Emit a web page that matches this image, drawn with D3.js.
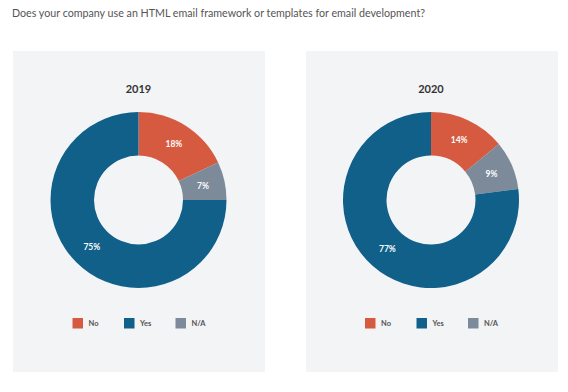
<!DOCTYPE html>
<html><head><meta charset="utf-8">
<script src="https://cdn.jsdelivr.net/npm/d3@7"></script>
<style>body{margin:0;background:#fff;} svg{display:block;font-family:Lato,"Open Sans",sans-serif;}</style>
</head><body>
<svg id="c" width="568" height="392"></svg>
<script>
const title = "Does your company use an HTML email framework or templates for email development?";
const categories = ["No", "N/A", "Yes"];
const legendOrder = ["No", "Yes", "N/A"];
const years = ["2019", "2020"];
const values2019 = [18, 7, 75];
const values2020 = [14, 9, 77];
const colors = {"No": "#d65a40", "Yes": "#10608a", "N/A": "#7d8a9a"};

const svg = d3.select("#c");
svg.append("text").attr("x", 12).attr("y", 16.5).attr("fill", "#555")
  .attr("font-size", 10.7).text(title);

const panels = [
  {year: years[0], vals: values2019, x: 13, cx: 138.5},
  {year: years[1], vals: values2020, x: 306, cx: 431}
];
const pie = d3.pie().sort(null).value(d => d.v);
const arc = d3.arc().innerRadius(44.5).outerRadius(88);
const labelArc = d3.arc().innerRadius(66).outerRadius(66);

panels.forEach(p => {
  const g = svg.append("g");
  g.append("rect").attr("x", p.x).attr("y", 51).attr("width", 252).attr("height", 321).attr("fill", "#f3f4f6");
  g.append("text").attr("x", p.cx).attr("y", 92.5).attr("text-anchor", "middle")
    .attr("font-size", 11).attr("font-weight", "bold").attr("fill", "#333").text(p.year);
  const data = categories.map((c, i) => ({c, v: p.vals[i]}));
  const arcs = pie(data);
  const dg = g.append("g").attr("transform", `translate(${p.cx},200)`);
  dg.selectAll("path").data(arcs).join("path").attr("d", arc).attr("fill", d => colors[d.data.c]);
  dg.selectAll("text").data(arcs).join("text")
    .attr("transform", d => `translate(${labelArc.centroid(d)})`)
    .attr("text-anchor", "middle").attr("dy", "0.35em")
    .attr("font-size", 8.5).attr("font-weight", "bold").attr("fill", "#fff")
    .text(d => d.data.v + "%");
  const lx = p.cx - 66;
  legendOrder.forEach((c, i) => {
    const x = lx + i * 51.5;
    g.append("rect").attr("x", x).attr("y", 318).attr("width", 10.5).attr("height", 10.5).attr("fill", colors[c]);
    g.append("text").attr("x", x + 16).attr("y", 326).attr("font-size", 7.5).attr("font-weight", "bold")
      .attr("fill", "#555").text(c);
  });
});
</script>
</body></html>
